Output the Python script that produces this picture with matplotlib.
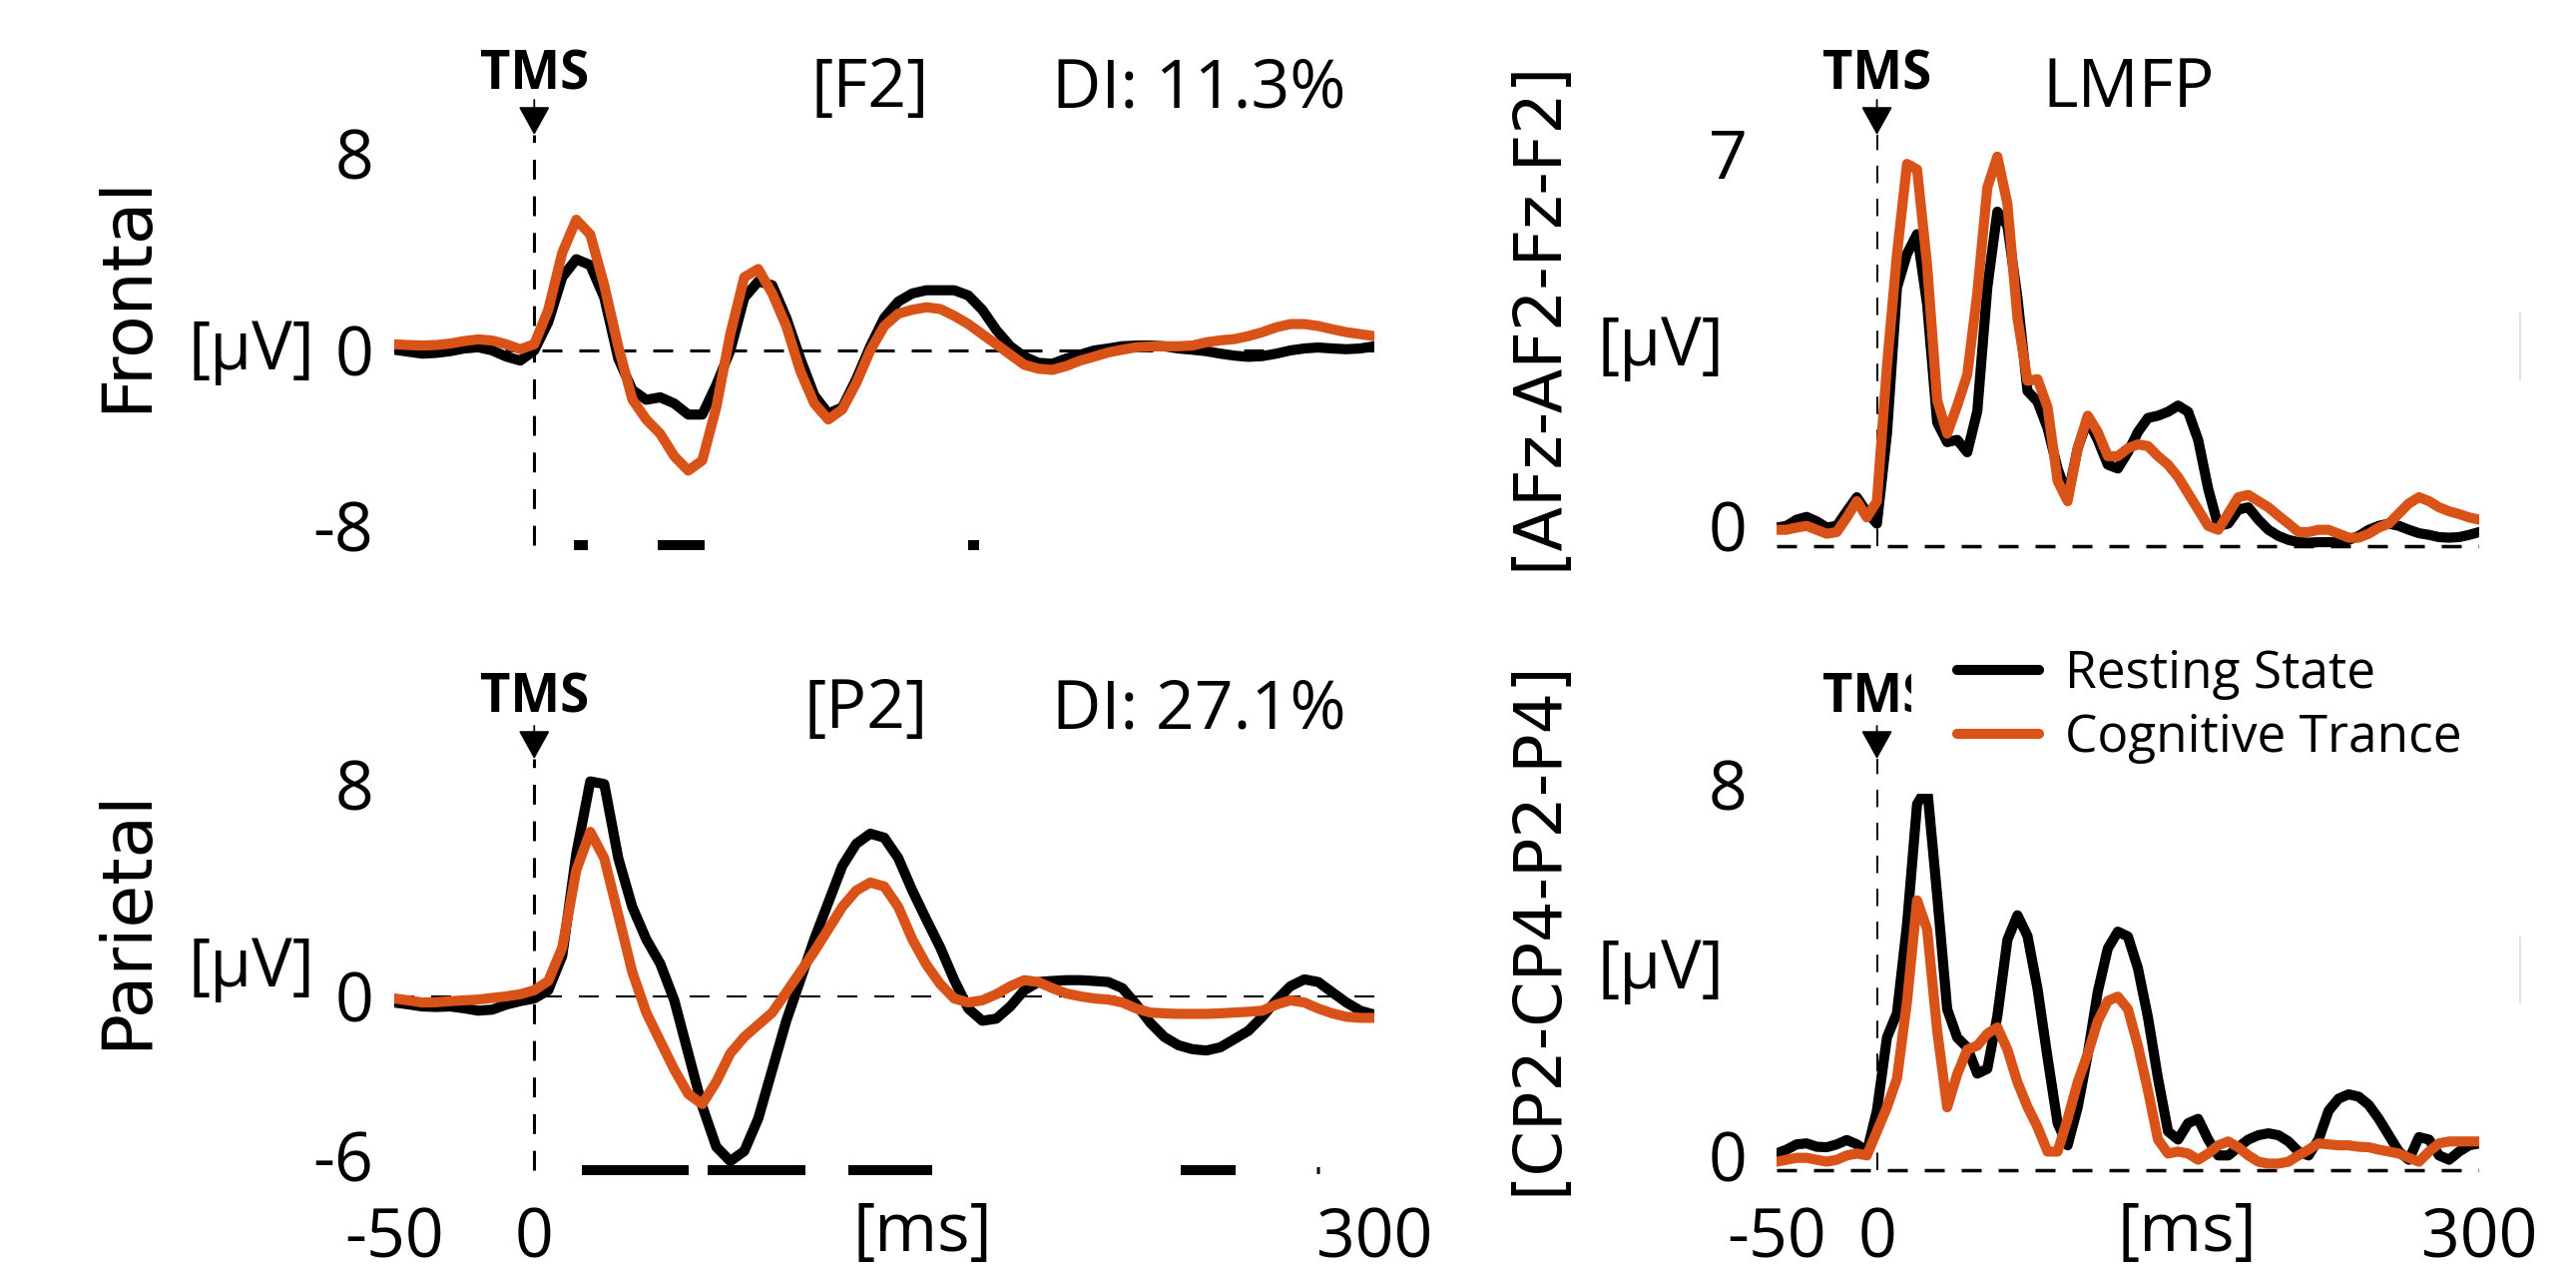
import numpy as np
import matplotlib.pyplot as plt
from matplotlib.lines import Line2D
from matplotlib.patches import Rectangle
from matplotlib.transforms import blended_transform_factory, ScaledTranslation

plt.rcParams['font.family'] = ['Open Sans', 'DejaVu Sans']

# time axis (ms), same for every panel
t_ms = np.arange(-50, 301, 5)

# channel F2 (frontal), uV
f2_rest = [0.03, -0.05, -0.13, -0.1, -0.03, 0.08, 0.13, 0.0, -0.25, -0.41, 0.0,
           1.15, 2.97, 3.7, 3.46, 2.14, -0.33, -1.6, -2.0, -1.9, -2.15,
           -2.6, -2.6, -1.4, 0.0, 2.14, 2.8, 2.64, 1.32, -0.33, -1.82,
           -2.56, -2.31, -1.16, 0.17, 1.32, 1.98, 2.31, 2.44, 2.44, 2.44,
           2.23, 1.65, 0.83, 0.17, -0.25, -0.5, -0.54, -0.33, -0.17, 0.0,
           0.08, 0.17, 0.2, 0.2, 0.17, 0.08, 0.03, -0.03, -0.13, -0.21,
           -0.26, -0.23, -0.13, 0.0, 0.08, 0.12, 0.08, 0.05, 0.08, 0.17]
f2_trance = [0.25, 0.22, 0.2, 0.22, 0.28, 0.38, 0.45, 0.4, 0.25, 0.05, 0.25,
             1.65, 3.96, 5.3, 4.7, 2.64, 0.16, -1.98, -2.8, -3.38, -4.29,
             -4.87, -4.46, -2.31, 0.66, 2.97, 3.3, 2.31, 0.99, -0.83, -2.15,
             -2.8, -2.39, -1.32, 0.0, 0.99, 1.49, 1.65, 1.75, 1.68, 1.4,
             1.07, 0.66, 0.25, -0.17, -0.58, -0.74, -0.79, -0.63, -0.41, -0.25,
             -0.08, 0.03, 0.13, 0.16, 0.17, 0.17, 0.2, 0.33, 0.41, 0.46,
             0.58, 0.74, 0.94, 1.07, 1.07, 0.99, 0.86, 0.74, 0.66, 0.58]

# channel P2 (parietal), uV
p2_rest = [-0.23, -0.3, -0.38, -0.4, -0.38, -0.45, -0.54, -0.5, -0.31, -0.18, -0.08,
           0.23, 1.53, 5.37, 8.1, 8.0, 5.21, 3.37, 2.15, 1.23, -0.15,
           -2.15, -4.14, -5.67, -6.21, -5.83, -4.6, -2.76, -0.92, 0.61, 2.15,
           3.53, 4.91, 5.75, 6.13, 5.98, 5.21, 3.99, 2.9, 1.84, 0.61,
           -0.46, -0.92, -0.84, -0.38, 0.23, 0.54, 0.58, 0.61, 0.61, 0.58,
           0.54, 0.31, -0.31, -1.0, -1.53, -1.84, -1.99, -2.04, -1.92, -1.61,
           -1.3, -0.77, -0.15, 0.38, 0.64, 0.54, 0.15, -0.23, -0.54, -0.69]
p2_trance = [-0.08, -0.15, -0.23, -0.22, -0.18, -0.15, -0.12, -0.06, 0.0, 0.08, 0.23,
             0.58, 1.84, 4.75, 6.2, 5.2, 3.07, 0.92, -0.61, -1.69, -2.76,
             -3.68, -4.06, -3.22, -2.15, -1.53, -1.07, -0.61, 0.15, 0.92, 1.69,
             2.53, 3.37, 3.99, 4.29, 4.14, 3.37, 2.15, 1.2, 0.46, -0.08,
             -0.23, -0.15, 0.08, 0.38, 0.61, 0.54, 0.31, 0.11, 0.0, -0.08,
             -0.12, -0.23, -0.46, -0.61, -0.64, -0.66, -0.66, -0.66, -0.64, -0.61,
             -0.58, -0.54, -0.31, -0.15, -0.23, -0.46, -0.64, -0.77, -0.81, -0.81]

# LMFP over AFz-AF2-Fz-F2, uV
lmfp_f_rest = [0.33, 0.36, 0.47, 0.52, 0.44, 0.33, 0.36, 0.62, 0.87, 0.6, 0.4,
               2.0, 4.6, 5.2, 5.55, 4.3, 2.2, 1.85, 1.89, 1.67, 2.4,
               4.6, 5.95, 5.7, 4.42, 2.76, 2.57, 2.1, 1.38, 0.87, 1.74,
               2.25, 1.89, 1.45, 1.38, 1.67, 2.03, 2.28, 2.32, 2.39, 2.5,
               2.39, 1.89, 1.02, 0.36, 0.4, 0.65, 0.69, 0.47, 0.29, 0.18,
               0.11, 0.07, 0.06, 0.07, 0.07, 0.07, 0.11, 0.18, 0.29, 0.36,
               0.4, 0.36, 0.29, 0.23, 0.2, 0.16, 0.15, 0.16, 0.2, 0.25]
lmfp_f_trance = [0.29, 0.29, 0.33, 0.36, 0.29, 0.22, 0.25, 0.51, 0.8, 0.51, 0.8,
                 3.2, 5.2, 6.8, 6.7, 5.0, 2.6, 2.0, 2.5, 3.05, 4.5,
                 6.38, 6.93, 6.09, 4.06, 2.94, 2.97, 2.47, 1.16, 0.8, 1.74,
                 2.32, 2.03, 1.6, 1.6, 1.74, 1.81, 1.78, 1.6, 1.45, 1.23,
                 0.94, 0.65, 0.36, 0.29, 0.58, 0.87, 0.91, 0.8, 0.69, 0.54,
                 0.4, 0.25, 0.25, 0.29, 0.29, 0.22, 0.15, 0.15, 0.22, 0.33,
                 0.4, 0.58, 0.76, 0.87, 0.8, 0.69, 0.62, 0.57, 0.51, 0.47]

# LMFP over CP2-CP4-P2-P4, uV
lmfp_p_rest = [0.34, 0.42, 0.53, 0.55, 0.48, 0.47, 0.53, 0.62, 0.53, 0.38, 1.23,
               2.75, 3.26, 5.1, 7.6, 7.95, 5.71, 3.34, 2.75, 2.54, 2.0,
               2.1, 3.2, 4.78, 5.29, 4.86, 3.76, 2.33, 0.97, 0.51, 1.3,
               2.4, 3.7, 4.6, 4.95, 4.85, 4.19, 3.17, 1.9, 0.8, 0.63,
               0.97, 1.06, 0.63, 0.3, 0.3, 0.47, 0.63, 0.72, 0.76, 0.72,
               0.59, 0.38, 0.3, 0.63, 1.23, 1.48, 1.57, 1.52, 1.35, 1.06,
               0.72, 0.38, 0.21, 0.68, 0.63, 0.3, 0.21, 0.38, 0.51, 0.55]
lmfp_p_trance = [0.17, 0.21, 0.25, 0.25, 0.21, 0.17, 0.21, 0.3, 0.34, 0.3, 0.8,
                 1.3, 1.9, 3.5, 5.6, 5.0, 2.9, 1.3, 1.99, 2.5, 2.58,
                 2.83, 2.96, 2.5, 1.82, 1.31, 0.89, 0.38, 0.38, 1.06, 1.82,
                 2.41, 3.09, 3.51, 3.6, 3.34, 2.58, 1.65, 0.63, 0.34, 0.38,
                 0.34, 0.21, 0.34, 0.51, 0.59, 0.47, 0.3, 0.17, 0.13, 0.13,
                 0.17, 0.3, 0.42, 0.55, 0.53, 0.51, 0.51, 0.48, 0.47, 0.42,
                 0.38, 0.34, 0.25, 0.17, 0.38, 0.55, 0.59, 0.59, 0.59, 0.59]

# significant intervals (ms)
f2_sig = [(14, 19), (44, 61), (155, 159)]
p2_sig = [(17, 55), (62, 97), (112, 142), (231, 250.5), (279.5, 280.5)]

conditions = ['Resting State', 'Cognitive Trance']
ORANGE = '#D95319'

W, H = 2581, 1271
fig = plt.figure(figsize=(W / 100, H / 100), dpi=100)


def add_ax(box):
    x0, x1, y0, y1 = box
    return fig.add_axes([x0 / W, 1 - y1 / H, (x1 - x0) / W, (y1 - y0) / H])


def ftext(x, y, s, **kw):
    fig.text(x / W, 1 - y / H, s, **kw)


def frac(box, ypx):
    return (box[3] - ypx) / (box[3] - box[2])


def panel(box, rest, trance, ylim, yticks, ypad, zero_lw, vline_lw, vline_dash,
          vline_from, tms_tip, tms_stem, tms_base, xticks=False, xpad=0):
    ax = add_ax(box)
    ax.set_xlim(-50, 300)
    ax.set_ylim(*ylim)
    for s in ax.spines.values():
        s.set_visible(False)
    lw_px = zero_lw / 0.72
    ax.axhline(0, color='k', lw=zero_lw, dashes=(20 / lw_px, 17 / lw_px), zorder=1)
    tr = blended_transform_factory(ax.transData, ax.transAxes)
    vfrom = (vline_from - ylim[0]) / (ylim[1] - ylim[0])
    ax.plot([0, 0], [vfrom, frac(box, tms_tip)], transform=tr, color='k', lw=vline_lw,
            dashes=vline_dash, clip_on=False, zorder=1)
    ax.annotate('', xy=(0, frac(box, tms_tip)), xytext=(0, frac(box, tms_stem)),
                xycoords=tr, textcoords=tr, annotation_clip=False,
                arrowprops=dict(arrowstyle='-|>,head_length=0.9,head_width=0.5',
                                color='k', lw=1.3, shrinkA=0, shrinkB=0, mutation_scale=20))
    ax.text(0, frac(box, tms_base), 'TMS', transform=tr, ha='center', va='baseline',
            fontsize=38, fontweight='bold', clip_on=False)
    l1, = ax.plot(t_ms, rest, color='k', lw=7.3, solid_capstyle='round',
                  solid_joinstyle='round', zorder=2)
    l2, = ax.plot(t_ms, trance, color=ORANGE, lw=7.3, solid_capstyle='round',
                  solid_joinstyle='round', zorder=2.1)
    ax.set_yticks(yticks)
    ax.set_yticklabels([str(v) for v in yticks])
    ax.tick_params(axis='y', length=0, pad=ypad, labelsize=49)
    if xticks:
        ax.set_xticks([-50, 0, 300])
        ax.set_xticklabels(['-50', '0', '300'])
        ax.tick_params(axis='x', length=0, pad=xpad, labelsize=49)
    else:
        ax.set_xticks([])
    return ax, (l1, l2)


def lift_bottom_label(ax, px):
    lbl = ax.yaxis.get_major_ticks()[0].label1
    lbl.set_transform(lbl.get_transform() + ScaledTranslation(0, px / 100, fig.dpi_scale_trans))


# boxes in pixels: x0, x1, y0, y1
tl_box = (395, 1377, 141, 561)
bl_box = (395, 1377, 772, 1184)
tr_box = (1780, 2484, 136, 569.5)
br_box = (1780, 2484, 762, 1191)

ax_tl, _ = panel(tl_box, f2_rest, f2_trance, (-8.5, 8.5), [-8, 0, 8], 15,
                 2.2, 2.2, (6.5, 5.5), -7.9, 135, 100, 90)
ax_bl, _ = panel(bl_box, p2_rest, p2_trance, (-7, 8.5), [-6, 0, 8], 15,
                 1.5, 2.2, (6.5, 5.5), -6.55, 760, 727, 713, xticks=True, xpad=17)
ax_tr, _ = panel(tr_box, lmfp_f_rest, lmfp_f_trance, (-0.4, 7.3), [0, 7], 21,
                 2.5, 1.4, (9, 8), 0, 135, 100, 90)
ax_br, lines = panel(br_box, lmfp_p_rest, lmfp_p_trance, (-0.4, 8.5), [0, 8], 21,
                     2.5, 1.4, (9, 8), 0, 760, 727, 713, xticks=True, xpad=12)

lift_bottom_label(ax_tl, 22)
lift_bottom_label(ax_tr, 20)
lift_bottom_label(ax_br, 14)

# significance bars
for a, b in f2_sig:
    ax_tl.plot([a, b], [-7.9, -7.9], color='k', lw=7.2, solid_capstyle='butt', clip_on=False)
for a, b in p2_sig:
    ax_bl.plot([a, b], [-6.55, -6.55], color='k', lw=7.2 if b - a > 2 else 5,
               solid_capstyle='butt', clip_on=False)

# titles
ftext(872, 107, '[F2]', fontsize=49, ha='center', va='baseline')
ftext(1201, 107, 'DI: 11.3%', fontsize=49, ha='center', va='baseline')
ftext(868, 729, '[P2]', fontsize=49, ha='center', va='baseline')
ftext(1201, 729, 'DI: 27.1%', fontsize=49, ha='center', va='baseline')
ftext(2133, 107, 'LMFP', fontsize=49, ha='center', va='baseline')

# unit labels
ftext(252, 370, '[µV]', fontsize=49, ha='center', va='baseline')
ftext(252, 988, '[µV]', fontsize=49, ha='center', va='baseline')
ftext(1664, 366, '[µV]', fontsize=49, ha='center', va='baseline')
ftext(1664, 990, '[µV]', fontsize=49, ha='center', va='baseline')
ftext(924, 1201, '[ms]', fontsize=49, ha='center', va='top')
ftext(2191, 1202, '[ms]', fontsize=49, ha='center', va='top')

# region labels
ftext(127, 294, 'Frontal', fontsize=50, rotation=90, ha='center', va='center', family='DejaVu Sans')
ftext(127, 920, 'Parietal', fontsize=50, rotation=90, ha='center', va='center', family='DejaVu Sans')
ftext(1541, 316, '[AFz-AF2-Fz-F2]', fontsize=47, rotation=90, ha='center', va='center', family='DejaVu Sans')
ftext(1541, 929, '[CP2-CP4-P2-P4]', fontsize=47, rotation=90, ha='center', va='center', family='DejaVu Sans')

# legend on a white box
ax_br.add_patch(Rectangle((1915 / W, 1 - 795 / H), (2514 - 1915) / W, (795 - 600) / H,
                          transform=fig.transFigure, facecolor='white', edgecolor='none',
                          zorder=4, clip_on=False))
ax_br.legend(lines, conditions, loc='upper left', bbox_to_anchor=(1961 / W, 1 - 650 / H),
             bbox_transform=fig.transFigure, frameon=False, prop={'size': 37},
             handlelength=1.6, handletextpad=0.5, labelspacing=0.26,
             borderpad=0, borderaxespad=0)

# faint marks at the right edge
for y0, y1 in [(314, 380), (939, 1004)]:
    fig.add_artist(Line2D([2525 / W, 2525 / W], [1 - y0 / H, 1 - y1 / H],
                          transform=fig.transFigure, color='#dddddd', lw=1.2))

fig.savefig('out.png', dpi=100)
